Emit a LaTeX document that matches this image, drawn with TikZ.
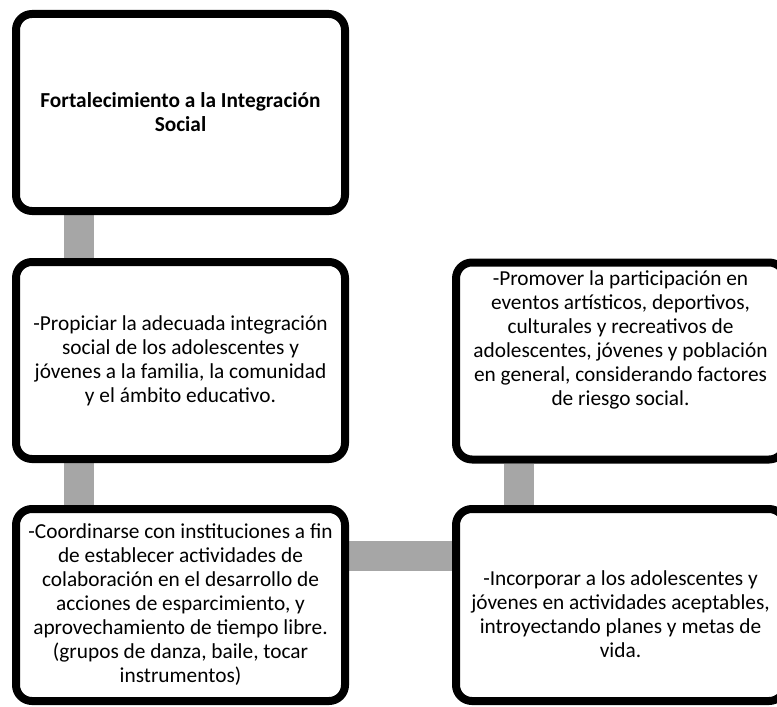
\documentclass[tikz,border=0pt]{standalone}
\usepackage{fontspec}
\setmainfont{Carlito}
\usetikzlibrary{backgrounds,calc,shadows}

\begin{document}
\begin{tikzpicture}[x=0.75pt,y=-0.75pt,
	box/.style={draw=black,line width=6pt,rounded corners=12pt,fill=white,
		minimum width=246.75pt,minimum height=147.75pt,align=center,
		inner sep=0pt,font=\fontsize{16pt}{18pt}\selectfont,
		drop shadow={opacity=0.18,shadow xshift=1pt,shadow yshift=-2pt}},
	link/.style={line width=22.5pt,draw={rgb,255:red,166;green,166;blue,166}}]
\useasboundingbox (0,0) rectangle (777,706);
\node[box,font=\fontsize{16pt}{18pt}\selectfont\bfseries]
(integracion) at (180.5,112.5)
	{Fortalecimiento a la Integración\\ Social};
\node[box]
(propiciar) at (180.5,360.5)
	{-Propiciar la adecuada integración\\ social de los adolescentes y\\
	jóvenes a la familia, la comunidad\\ y el ámbito educativo.};
\node[box,minimum height=144pt]
(coordinar) at (180.5,605)
	{-Coordinarse con instituciones a fin\\ de establecer actividades de\\
	colaboración en el desarrollo de\\ acciones de esparcimiento, y\\
	aprovechamiento de tiempo libre.\\ (grupos de danza, baile, tocar\\
	instrumentos)};
\node[box]
(promover) at (620.5,361)
	{-Promover la participación en\\ eventos artísticos, deportivos,\\
	culturales y recreativos de\\ adolescentes, jóvenes y población\\
	en general, considerando factores\\ de riesgo social.\rule[-34pt]{0pt}{0pt}};
\node[box,minimum height=144pt]
(incorporar) at (620.5,605)
	{\rule{0pt}{25pt}-Incorporar a los adolescentes y\\ jóvenes en actividades aceptables,\\
	introyectando planes y metas de\\ vida.};
\begin{scope}[on background layer]
\draw[link] ($(integracion.south west)!.2!(integracion.south east)$)
	-- ($(propiciar.north west)!.2!(propiciar.north east)$);
\draw[link] ($(propiciar.south west)!.2!(propiciar.south east)$)
	-- ($(coordinar.north west)!.2!(coordinar.north east)$);
\draw[link] ($(coordinar.north east)!.255!(coordinar.south east)$) coordinate (h)
	-- (h -| incorporar.west);
\draw[link] ($(incorporar.north west)!.2!(incorporar.north east)$)
	-- ($(promover.south west)!.2!(promover.south east)$);
\end{scope}
\end{tikzpicture}
\end{document}
